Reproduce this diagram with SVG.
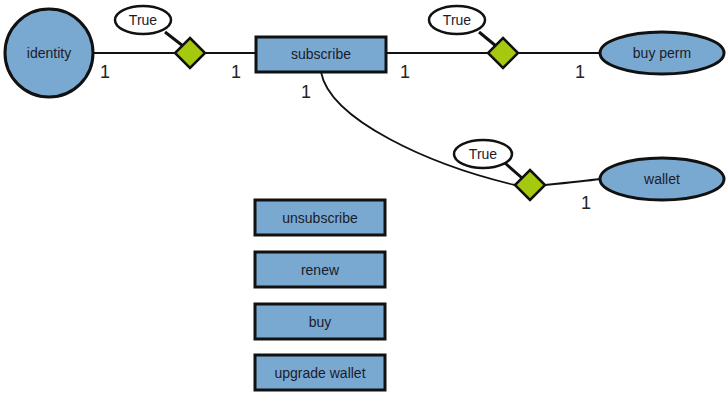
<svg xmlns="http://www.w3.org/2000/svg" width="726" height="393" viewBox="0 0 726 393">
<style>
.n{fill:#79a9d0;stroke:#111;stroke-width:3}
.d{fill:#a4c90e;stroke:#111;stroke-width:2.5}
.t{fill:#fff;stroke:#111;stroke-width:2.5}
.l{fill:none;stroke:#111;stroke-width:1.8}
.tl{fill:none;stroke:#111;stroke-width:3}
text{font-family:"Liberation Sans",Arial,sans-serif;font-size:14px;fill:#1b1b2b;text-anchor:middle;dominant-baseline:central}
.c{font-size:18px;fill:#222}
</style>
<rect width="726" height="393" fill="#fff"/>
<g id="connectors">
<path class="l" d="M93,53 H176"/>
<path class="l" d="M205,53 H256"/>
<path class="l" d="M386,53 H488"/>
<path class="l" d="M518,53 H600"/>
<path class="l" d="M321,72 C330,120 430,165 515,185"/>
<path class="l" d="M545,185 C565,183 585,181 600,179"/>
<path class="tl" d="M165,32 L183,46"/>
<path class="tl" d="M479,32 L496,46"/>
<path class="tl" d="M505,163 L522,178"/>
</g>
<g id="identity"><circle class="n" cx="49" cy="53" r="44"/><text x="49" y="53">identity</text></g>
<g id="rel1"><polygon class="d" points="190,38 205,53 190,68 175,53"/></g>
<g id="true1"><ellipse class="t" cx="143" cy="20" rx="28" ry="14"/><text x="143" y="20">True</text></g>
<g id="subscribe"><rect class="n" x="256" y="37" width="130" height="35"/><text x="321" y="54">subscribe</text></g>
<g id="rel2"><polygon class="d" points="503,38 518,53 503,68 488,53"/></g>
<g id="true2"><ellipse class="t" cx="457" cy="20" rx="28" ry="14"/><text x="457" y="20">True</text></g>
<g id="buyperm"><ellipse class="n" cx="662" cy="53" rx="62" ry="21"/><text x="662" y="53">buy perm</text></g>
<g id="rel3"><polygon class="d" points="530,170 545,185 530,200 515,185"/></g>
<g id="true3"><ellipse class="t" cx="483" cy="154" rx="29" ry="14"/><text x="483" y="154">True</text></g>
<g id="wallet"><ellipse class="n" cx="662" cy="179" rx="62" ry="21"/><text x="662" y="179">wallet</text></g>
<g id="unsubscribe"><rect class="n" x="255" y="200" width="130" height="35"/><text x="320" y="218">unsubscribe</text></g>
<g id="renew"><rect class="n" x="255" y="252" width="130" height="35"/><text x="320" y="270">renew</text></g>
<g id="buy"><rect class="n" x="255" y="304" width="130" height="35"/><text x="320" y="322">buy</text></g>
<g id="upgradewallet"><rect class="n" x="255" y="355" width="130" height="35"/><text x="320" y="373">upgrade wallet</text></g>
<g id="labels">
<text class="c" x="105" y="72">1</text>
<text class="c" x="236" y="72">1</text>
<text class="c" x="405" y="72">1</text>
<text class="c" x="580" y="72">1</text>
<text class="c" x="306" y="92">1</text>
<text class="c" x="586" y="203">1</text>
</g>
</svg>
